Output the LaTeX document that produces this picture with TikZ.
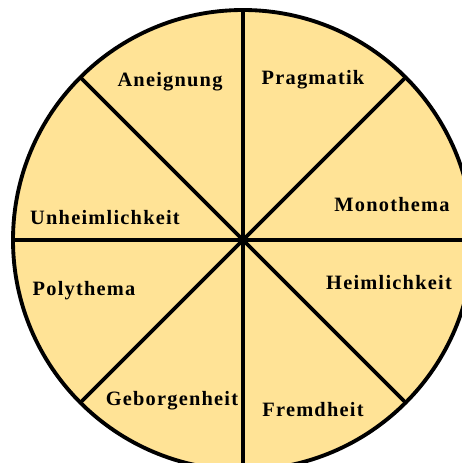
\documentclass[tikz,border=0pt]{standalone}
\usepackage{fontspec}
\usepackage{xcolor}
\usepackage{tikz}
\newfontfamily\segfont[LetterSpace=6]{Liberation Serif}
\definecolor{segfill}{HTML}{FFE396}

\begin{document}
\begin{tikzpicture}[
  x=0.02cm, y=-0.02cm,
  lbl/.style={font=\segfont\bfseries\fontsize{11.6}{13}\selectfont, inner sep=0pt, text=black},
  rim/.style={draw=black, line width=2.2pt, fill=segfill},
  spoke/.style={draw=black, line width=2.2pt}
]
\useasboundingbox (0,0) rectangle (462,463);
%% disc
\coordinate (ctr) at (243,240);
\path[rim] (ctr) circle[radius=230];
%% spokes
\foreach \a in {0,45,...,315}
  \draw[spoke] (ctr) -- ++(\a:230);
%% labels
\node[lbl] (l_aneig)  at (170, 82)  {Aneignung};
\node[lbl] (l_pragm)  at (313, 80)  {Pragmatik};
\node[lbl] (l_mono)   at (392, 205) {Monothema};
\node[lbl] (l_heim)   at (389, 283) {Heimlichkeit};
\node[lbl] (l_unheim) at (105, 218) {Unheimlichkeit};
\node[lbl] (l_poly)   at (84,  291) {Polythema};
\node[lbl] (l_gebor)  at (172, 401) {Geborgenheit};
\node[lbl] (l_fremd)  at (313, 410) {Fremdheit};
\end{tikzpicture}
\end{document}
